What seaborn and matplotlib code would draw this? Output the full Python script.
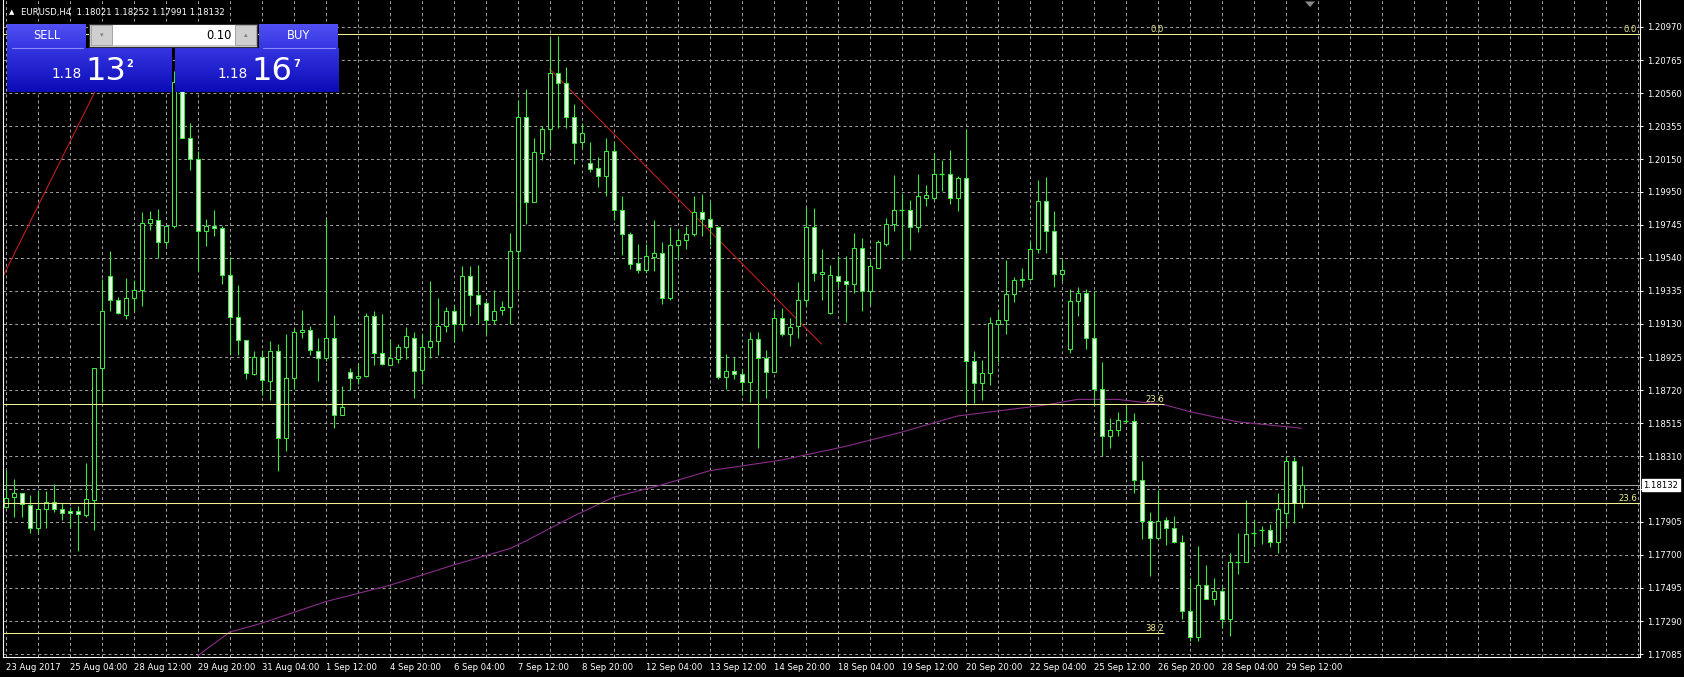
import numpy as np
import pandas as pd
import matplotlib
matplotlib.use("Agg")
import matplotlib.pyplot as plt
import seaborn as sns
from matplotlib.patches import Rectangle, Polygon
from matplotlib.colors import LinearSegmentedColormap

W, H = 1684, 677

# H4 candles (bar 0 = left edge)
open_ = [
    1.17998, 1.18056, 1.18081, 1.18008, 1.17864, 1.17982, 1.18029, 1.17982, 1.17971, 1.17971,
    1.17946, 1.18042, 1.18857, 1.19425, 1.19281, 1.19188, 1.19293, 1.19339, 1.19754, 1.19777,
    1.19635, 1.19737, 1.20630, 1.20280, 1.20153, 1.19706, 1.19737, 1.19724, 1.19433, 1.19173,
    1.19028, 1.18818, 1.18927, 1.18776, 1.18965, 1.18421, 1.18793, 1.19079, 1.19091, 1.18960,
    1.18919, 1.19045, 1.18566, 1.18834, 1.18793, 1.18808, 1.19181, 1.18952, 1.18878, 1.18914,
    1.18990, 1.19045, 1.18844, 1.18990, 1.19023, 1.19117, 1.19210, 1.19129, 1.19425, 1.19307,
    1.19261, 1.19156, 1.19218, 1.19236, 1.19580, 1.20412, 1.19883, 1.20191, 1.20335, 1.20684,
    1.20621, 1.20412, 1.20255, 1.20126, 1.20096, 1.20045, 1.20199, 1.19837, 1.19685, 1.19505,
    1.19462, 1.19542, 1.19568, 1.19289, 1.19618, 1.19648, 1.19685, 1.19825, 1.19782, 1.19729,
    1.18801, 1.18839, 1.18818, 1.18768, 1.19036, 1.18919, 1.18831, 1.19167, 1.19066, 1.19117,
    1.19281, 1.19729, 1.19440, 1.19198, 1.19430, 1.19395, 1.19375, 1.19602, 1.19332, 1.19476,
    1.19627, 1.19749, 1.19837, 1.19837, 1.19729, 1.19908, 1.19908, 1.20057, 1.20057, 1.19908,
    1.20032, 1.18902, 1.18763, 1.18826, 1.19129, 1.19156, 1.19314, 1.19400, 1.19408, 1.19597,
    1.19893, 1.19704, 1.19440, 1.18978, 1.19274, 1.19324, 1.19041, 1.18725, 1.18439, 1.18472,
    1.18528, 1.18528, 1.18161, 1.17908, 1.17806, 1.17915, 1.17864, 1.17781, 1.17352, 1.17190,
    1.17513, 1.17429, 1.17475, 1.17301, 1.17656, 1.17656, 1.17833, 1.17853, 1.17853, 1.17777,
    1.17958, 1.18284, 1.18021,
]
high = [
    1.18225, 1.18169, 1.18083, 1.18070, 1.18101, 1.18095, 1.18138, 1.18023, 1.17998, 1.18002,
    1.18267, 1.18857, 1.19409, 1.19585, 1.19299, 1.19415, 1.19402, 1.19825, 1.19832, 1.19845,
    1.19737, 1.20700, 1.20660, 1.20376, 1.20199, 1.19779, 1.19837, 1.19737, 1.19547, 1.19370,
    1.19028, 1.18965, 1.18969, 1.19023, 1.19008, 1.19071, 1.19111, 1.19218, 1.19117, 1.19041,
    1.19782, 1.19185, 1.18743, 1.18856, 1.18889, 1.19198, 1.19213, 1.19193, 1.19036, 1.19003,
    1.19111, 1.19079, 1.19071, 1.19395, 1.19288, 1.19236, 1.19248, 1.19489, 1.19489, 1.19497,
    1.19274, 1.19340, 1.19274, 1.19694, 1.20520, 1.20583, 1.20280, 1.20356, 1.20899, 1.20917,
    1.20723, 1.20495, 1.20376, 1.20255, 1.20164, 1.20285, 1.20255, 1.19921, 1.19698, 1.19627,
    1.19627, 1.19774, 1.19635, 1.19732, 1.19719, 1.19737, 1.19921, 1.19938, 1.19888, 1.19737,
    1.18945, 1.18927, 1.18851, 1.19079, 1.19079, 1.18970, 1.19223, 1.19230, 1.19167, 1.19388,
    1.19855, 1.19850, 1.19597, 1.19497, 1.19552, 1.19552, 1.19694, 1.19660, 1.19527, 1.19653,
    1.19787, 1.20052, 1.19938, 1.19900, 1.20057, 1.19989, 1.20191, 1.20148, 1.20209, 1.20047,
    1.20335, 1.18960, 1.18909, 1.19173, 1.19223, 1.19527, 1.19421, 1.19476, 1.19635, 1.20022,
    1.20040, 1.19830, 1.19534, 1.19345, 1.19357, 1.19345, 1.19332, 1.18894, 1.18547, 1.18586,
    1.18629, 1.18580, 1.18284, 1.17966, 1.18100, 1.17936, 1.17943, 1.17821, 1.17556, 1.17753,
    1.17640, 1.17556, 1.17500, 1.17714, 1.17833, 1.18037, 1.17924, 1.17878, 1.17890, 1.18080,
    1.18314, 1.18309, 1.18252,
]
low = [
    1.17990, 1.17936, 1.17936, 1.17835, 1.17835, 1.17867, 1.17967, 1.17915, 1.17867, 1.17726,
    1.17936, 1.17852, 1.18649, 1.19210, 1.19193, 1.19160, 1.19213, 1.19243, 1.19714, 1.19541,
    1.19610, 1.19725, 1.20280, 1.20083, 1.19458, 1.19610, 1.19674, 1.19375, 1.18935, 1.18939,
    1.18788, 1.18814, 1.18687, 1.18661, 1.18219, 1.18345, 1.18725, 1.19045, 1.18939, 1.18776,
    1.18902, 1.18484, 1.18566, 1.18718, 1.18757, 1.18801, 1.18878, 1.18878, 1.18878, 1.18889,
    1.18914, 1.18674, 1.18757, 1.18919, 1.18935, 1.19079, 1.19017, 1.19084, 1.19181, 1.19129,
    1.19066, 1.19129, 1.19188, 1.19129, 1.19345, 1.19749, 1.19883, 1.20147, 1.20221, 1.20343,
    1.20343, 1.20121, 1.20221, 1.20071, 1.19978, 1.19921, 1.19774, 1.19558, 1.19470, 1.19444,
    1.19444, 1.19458, 1.19256, 1.19281, 1.19534, 1.19597, 1.19673, 1.19673, 1.19622, 1.18788,
    1.18725, 1.18788, 1.18692, 1.18649, 1.18363, 1.18674, 1.18831, 1.19054, 1.18996, 1.19041,
    1.19243, 1.19395, 1.19281, 1.19193, 1.19357, 1.19142, 1.19324, 1.19213, 1.19248, 1.19476,
    1.19610, 1.19704, 1.19534, 1.19591, 1.19699, 1.19863, 1.19900, 1.19952, 1.19875, 1.19830,
    1.18636, 1.18641, 1.18661, 1.18755, 1.18894, 1.19071, 1.19269, 1.19357, 1.19400, 1.19572,
    1.19572, 1.19357, 1.19395, 1.18952, 1.19181, 1.18978, 1.18624, 1.18313, 1.18363, 1.18439,
    1.18520, 1.18085, 1.17797, 1.17569, 1.17806, 1.17758, 1.17771, 1.17301, 1.17169, 1.17164,
    1.17429, 1.17392, 1.17246, 1.17200, 1.17579, 1.17656, 1.17753, 1.17766, 1.17747, 1.17714,
    1.17873, 1.17898, 1.17991,
]
close = [
    1.18050, 1.18081, 1.18015, 1.17864, 1.17984, 1.18029, 1.17982, 1.17957, 1.17957, 1.17951,
    1.18046, 1.18856, 1.19210, 1.19281, 1.19198, 1.19293, 1.19339, 1.19754, 1.19779, 1.19635,
    1.19737, 1.20630, 1.20280, 1.20153, 1.19706, 1.19737, 1.19725, 1.19433, 1.19173, 1.19033,
    1.18826, 1.18927, 1.18781, 1.18965, 1.18421, 1.18793, 1.19079, 1.19091, 1.18970, 1.18919,
    1.19045, 1.18565, 1.18615, 1.18793, 1.18808, 1.19181, 1.18952, 1.18882, 1.18919, 1.18990,
    1.19053, 1.18839, 1.18990, 1.19023, 1.19117, 1.19210, 1.19129, 1.19428, 1.19307, 1.19251,
    1.19156, 1.19213, 1.19236, 1.19580, 1.20412, 1.19883, 1.20197, 1.20335, 1.20684, 1.20621,
    1.20414, 1.20250, 1.20310, 1.20088, 1.20045, 1.20199, 1.19837, 1.19685, 1.19500, 1.19462,
    1.19553, 1.19568, 1.19289, 1.19622, 1.19648, 1.19685, 1.19825, 1.19779, 1.19729, 1.18801,
    1.18839, 1.18823, 1.18768, 1.19036, 1.18919, 1.18831, 1.19167, 1.19071, 1.19111, 1.19281,
    1.19729, 1.19445, 1.19451, 1.19433, 1.19395, 1.19375, 1.19602, 1.19332, 1.19489, 1.19635,
    1.19749, 1.19837, 1.19837, 1.19729, 1.19921, 1.19926, 1.20057, 1.20057, 1.19908, 1.20032,
    1.18902, 1.18763, 1.18826, 1.19134, 1.19156, 1.19314, 1.19400, 1.19408, 1.19597, 1.19893,
    1.19704, 1.19440, 1.19466, 1.19274, 1.19324, 1.19046, 1.18725, 1.18439, 1.18472, 1.18535,
    1.18528, 1.18161, 1.17908, 1.17806, 1.17908, 1.17864, 1.17781, 1.17352, 1.17190, 1.17513,
    1.17429, 1.17475, 1.17301, 1.17656, 1.17656, 1.17828, 1.17833, 1.17853, 1.17777, 1.17984,
    1.18284, 1.18018, 1.18132,
]

date_labels = [
    "23 Aug 2017", "25 Aug 04:00", "28 Aug 12:00", "29 Aug 20:00", "31 Aug 04:00",
    "1 Sep 12:00", "4 Sep 20:00", "6 Sep 04:00", "7 Sep 12:00", "8 Sep 20:00",
    "12 Sep 04:00", "13 Sep 12:00", "14 Sep 20:00", "18 Sep 04:00", "19 Sep 12:00",
    "20 Sep 20:00", "22 Sep 04:00", "25 Sep 12:00", "26 Sep 20:00", "28 Sep 04:00",
    "29 Sep 12:00",
]
bars_per_label = 8
price_ticks = [
    1.20970, 1.20765, 1.20560, 1.20355, 1.20150, 1.19950, 1.19745, 1.19540, 1.19335, 1.19130,
    1.18925, 1.18720, 1.18515, 1.18310, 1.18105, 1.17905, 1.17700, 1.17495, 1.17290, 1.17085,
]
# 1.18105 sits under the current-price box
price_tick_labels = [f"{p:.5f}" if p != 1.18105 else "" for p in price_ticks]

# moving average, read at a few bars
ma_bar = [24, 28, 32, 40, 48, 56, 63, 65, 71, 76, 82, 88, 97, 105, 112, 119, 130, 134, 139, 145, 148, 154, 162]
ma_val = [1.17075, 1.17221, 1.17276, 1.17410, 1.17511, 1.17637, 1.17738, 1.17785, 1.17940, 1.18057,
          1.18133, 1.18221, 1.18287, 1.18372, 1.18460, 1.18560, 1.18628, 1.18663, 1.18663, 1.18628,
          1.18587, 1.18524, 1.18484]

fib_a_levels = [1.20927, 1.18634, 1.17215]
fib_a_names = ["0.0", "23.6", "38.2"]
fib_a_end = 144.8
fib_b_levels = [1.20927, 1.18020]
fib_b_names = ["0.0", "23.6"]

trend_bars = [[-1, 14], [68, 102]]
trend_prices = [[1.19358, 1.20851], [1.20710, 1.19005]]

last_price = 1.18132
header = "EURUSD,H4  1.18021 1.18252 1.17991 1.18132"

GREEN = "#3ee83e"
BEAR_FILL = "#e8ffe8"
GRID = "#a4a4a4"
YELLOW = "#f0f08c"
PURPLE = "#8a2e8a"
RED = "#c81e1e"
FS = 6.1

sns.set_theme(style="dark", rc={
    "axes.facecolor": "black", "figure.facecolor": "black",
    "axes.edgecolor": "white", "text.color": "white",
    "xtick.color": "white", "ytick.color": "white", "axes.grid": False,
})
plt.rcParams["font.family"] = ["DejaVu Sans"]


def fx(x):
    return x / W


def fy(y):
    return 1 - y / H


df = pd.DataFrame({"open": open_, "high": high, "low": low, "close": close})
df["bar"] = np.arange(len(df))

fig = plt.figure(figsize=(W / 100, H / 100), dpi=100)
ax = fig.add_axes([fx(3.3), fy(657), (1640 - 3.3) / W, 657 / H])

# grid
for b in range(0, 205, 4):
    ax.axvline(b, color=GRID, lw=0.7, ls=(0, (3, 3)), zorder=0.5)
for p in price_ticks:
    ax.axhline(p, color=GRID, lw=0.7, ls=(0, (3, 3)), zorder=0.5)

# indicators / objects
sns.lineplot(x=ma_bar, y=ma_val, ax=ax, color=PURPLE, lw=0.8, zorder=2.5)
for b, p in zip(trend_bars, trend_prices):
    ax.plot(b, p, color=RED, lw=0.75, zorder=2.5)

# candles
ax.vlines(df["bar"], df["low"], df["high"], color=GREEN, lw=0.8, zorder=3)
bull = df[df["close"] > df["open"]]
bear = df[df["close"] < df["open"]]
doji = df[df["close"] == df["open"]]
ax.bar(bull["bar"], bull["close"] - bull["open"], bottom=bull["open"], width=0.5,
       color="black", edgecolor=GREEN, lw=0.75, zorder=4)
ax.bar(bear["bar"], bear["open"] - bear["close"], bottom=bear["close"], width=0.5,
       color=BEAR_FILL, edgecolor=GREEN, lw=0.75, zorder=4)
ax.hlines(doji["close"], doji["bar"] - 0.32, doji["bar"] + 0.32, color=GREEN, lw=1.0, zorder=4)

# fibonacci levels
ax.hlines(fib_a_levels, -1, fib_a_end, color=YELLOW, lw=0.75, zorder=5)
for lvl, name in zip(fib_a_levels, fib_a_names):
    ax.text(fib_a_end, lvl, name, ha="right", va="bottom", color=YELLOW, fontsize=FS, zorder=5)
ax.hlines(fib_b_levels, -1, 210, color=YELLOW, lw=0.75, zorder=5)
for lvl, name in zip(fib_b_levels, fib_b_names):
    ax.text(203.9, lvl, name, ha="right", va="bottom", color=YELLOW, fontsize=FS, zorder=5)

ax.axhline(last_price, color="#a0a0a0", lw=0.75, zorder=1)

ax.set_xlim(-0.29, 204.3)
ax.set_ylim(1.17067, 1.21137)
ax.set_xlabel("")
ax.set_ylabel("")

for side in ["left", "right", "bottom"]:
    ax.spines[side].set_color("white")
    ax.spines[side].set_linewidth(0.8)
ax.spines["top"].set_visible(False)

ax.yaxis.tick_right()
ax.set_yticks(price_ticks)
ax.set_yticklabels(price_tick_labels)
ax.tick_params(axis="y", length=2.5, width=0.7, pad=2.5, labelsize=FS, colors="white")
ax.set_xticks(np.arange(len(date_labels)) * bars_per_label)
ax.set_xticklabels(date_labels, ha="left")
ax.tick_params(axis="x", length=3, width=0.7, pad=1.5, labelsize=FS, colors="white")

ax.annotate(f"{last_price:.5f}", xy=(1, last_price), xycoords=("axes fraction", "data"),
            xytext=(2.3, 0), textcoords="offset points", ha="left", va="center",
            color="black", fontsize=FS,
            bbox=dict(boxstyle="square,pad=0.2", fc="white", ec="white"), zorder=10)

# header and chart-shift marker
fig.text(fx(9.3), fy(14.5), "\u25b2", fontsize=5, color="white", va="baseline")
fig.text(fx(20.7), fy(15), header, fontsize=FS, color="white", va="baseline")
fig.patches.append(Polygon([(fx(1305), fy(1.5)), (fx(1315), fy(1.5)), (fx(1310), fy(7))],
                           closed=True, transform=fig.transFigure, fc="#8a8a8a", ec="none"))

# one-click trading panel
pax = fig.add_axes([fx(7.3), fy(91.7), (338.3 - 7.3) / W, (91.7 - 23.3) / H])
pax.set_zorder(20)
pax.axis("off")


def block(x0, y0, x1, y1, top, bottom):
    grad = np.linspace(0, 1, 64).reshape(-1, 1)
    cmap = LinearSegmentedColormap.from_list("g", [top, bottom])
    pax.imshow(grad, extent=(x0, x1, y1, y0), cmap=cmap, aspect="auto",
               interpolation="bilinear", origin="upper")


block(7.3, 24, 86, 48.6, "#5050f4", "#3535e0")
block(259.3, 24, 338.3, 48.6, "#5050f4", "#3535e0")
block(7.3, 48.6, 171.7, 91.7, "#3434e2", "#0c0cb6")
block(175, 48.6, 338.3, 91.7, "#3434e2", "#0c0cb6")
pax.plot([12, 83], [48.5, 48.5], color="#8c8cff", lw=0.8)
pax.plot([263, 335], [48.5, 48.5], color="#8c8cff", lw=0.8)

pax.add_patch(Rectangle((89.3, 23.6), 168, 23, fc="#d0d0d0", ec="#303030", lw=0.8))
pax.add_patch(Rectangle((91.5, 25.5), 20.5, 19.5, fc="#cfcfcf", ec="#a0a0a0", lw=0.6))
pax.add_patch(Rectangle((112.7, 25.2), 122.5, 20, fc="white", ec="none"))
pax.add_patch(Rectangle((235.5, 25.5), 20.5, 19.5, fc="#cfcfcf", ec="#a0a0a0", lw=0.6))
pax.text(101.7, 35.5, "\u25be", ha="center", va="center", color="#808080", fontsize=5)
pax.text(245.7, 35, "\u25b4", ha="center", va="center", color="#808080", fontsize=5)
pax.text(231.5, 35.3, "0.10", ha="right", va="center", color="black", fontsize=8.3)
pax.text(47, 35.3, "SELL", ha="center", va="center", color="white", fontsize=8.3)
pax.text(298.3, 35.3, "BUY", ha="center", va="center", color="white", fontsize=8.3)

pax.text(51.5, 78.5, "1.18", ha="left", va="baseline", color="white", fontsize=9.8)
pax.text(85, 80.5, "13", ha="left", va="baseline", color="white", fontsize=23)
pax.text(126.5, 67, "2", ha="left", va="baseline", color="white", fontsize=7, fontweight="bold")
pax.text(217.5, 78.5, "1.18", ha="left", va="baseline", color="white", fontsize=9.8)
pax.text(251.5, 80.5, "16", ha="left", va="baseline", color="white", fontsize=23)
pax.text(293, 67, "7", ha="left", va="baseline", color="white", fontsize=7, fontweight="bold")

pax.set_xlim(7.3, 338.3)
pax.set_ylim(91.7, 23.3)

fig.savefig("out.png", dpi=100, facecolor="black")
